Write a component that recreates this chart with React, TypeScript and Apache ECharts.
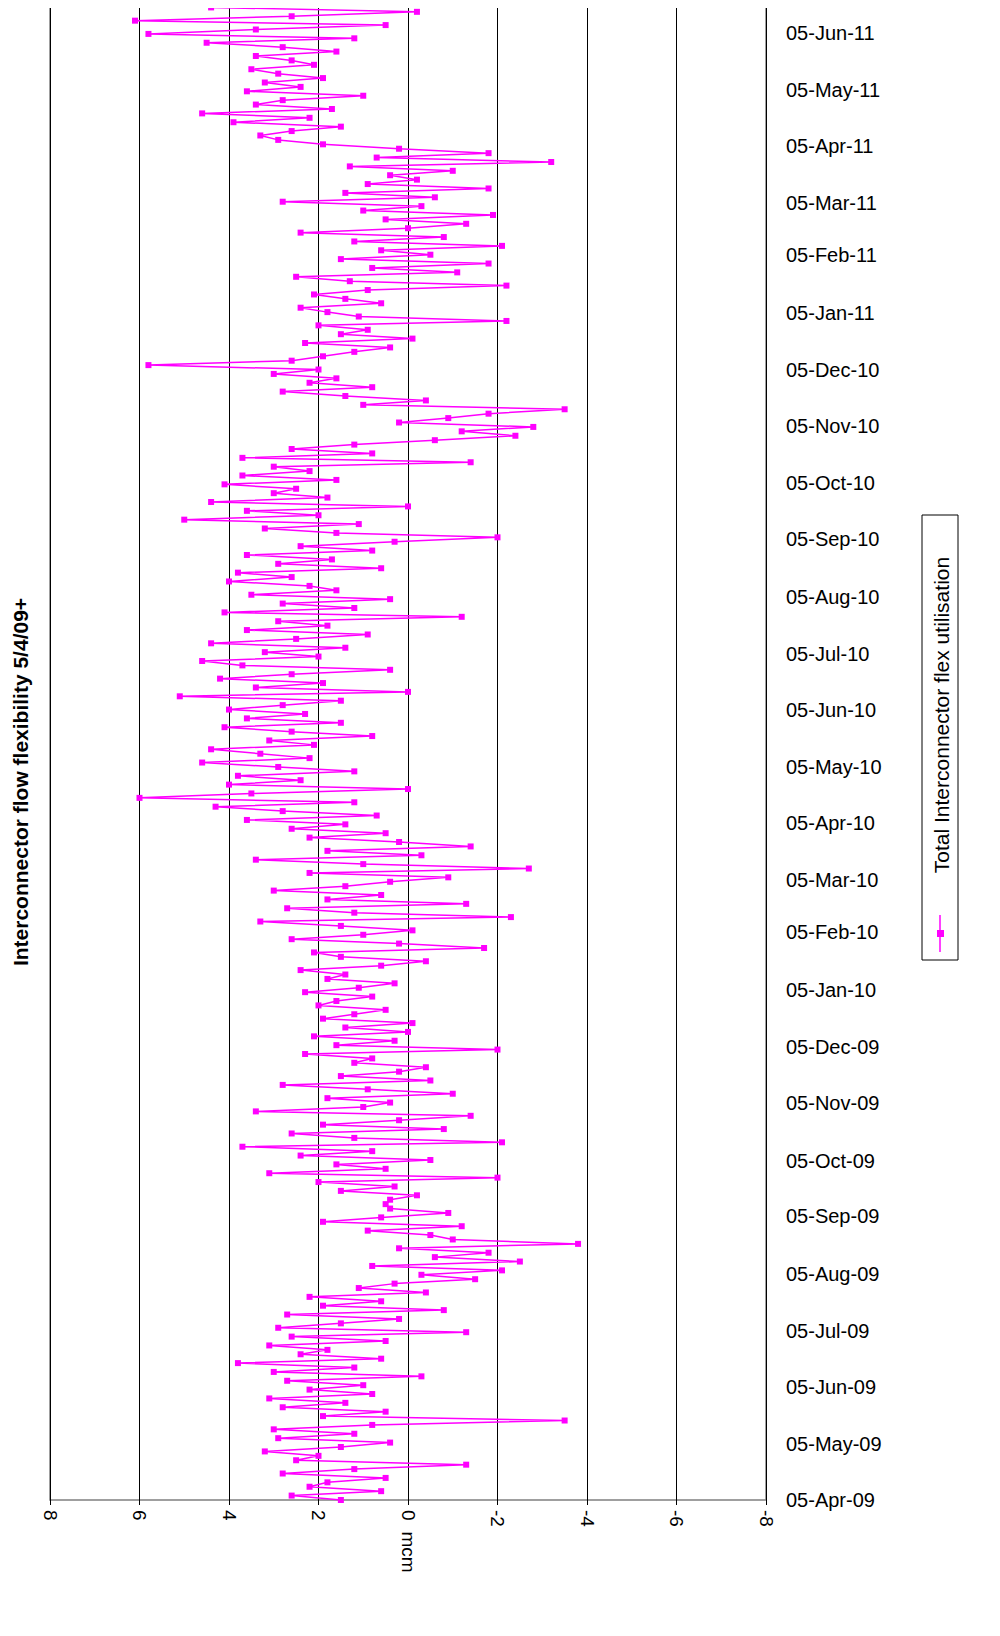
import { useEffect, useRef } from "react";
import * as echarts from "echarts";

const START = Date.UTC(2009, 3, 5);
const DAY = 86400000;
const SPAN_DAYS = 807;
const MONTHS = ["Jan", "Feb", "Mar", "Apr", "May", "Jun", "Jul", "Aug", "Sep", "Oct", "Nov", "Dec"];

// flex utilisation, mcm, chronological from 05-Apr-09
const FLEX = [
  1.5, 2.6, 0.6, 2.2, 1.8, 0.5, 2.8, 1.2, -1.3, 2.5,
  2.0, 3.2, 1.5, 0.4, 2.9, 1.2, 3.0, 0.8, -3.5, 1.9,
  0.5, 2.8, 1.4, 3.1, 0.8, 2.2, 1.0, 2.7, -0.3, 3.0,
  1.2, 3.8, 0.6, 2.4, 1.8, 3.1, 0.5, 2.6, -1.3, 2.9,
  1.5, 0.2, 2.7, -0.8, 1.9, 0.6, 2.2, -0.4, 1.1, 0.3,
  -1.5, -0.3, -2.1, 0.8, -2.5, -0.6, -1.8, 0.2, -3.8, -1.0,
  -0.5, 0.9, -1.2, 1.9, 0.6, -0.9, 0.4, 0.5, 0.4, -0.2,
  1.5, 0.3, 2.0, -2.0, 3.1, 0.5, 1.6, -0.5, 2.4, 0.8,
  3.7, -2.1, 1.2, 2.6, -0.8, 1.9, 0.2, -1.4, 3.4, 1.0,
  0.4, 1.8, -1.0, 0.9, 2.8, -0.5, 1.5, 0.2, -0.4, 1.2,
  0.8, 2.3, -2.0, 1.6, 0.3, 2.1, 0.0, 1.4, -0.1, 1.9,
  1.2, 0.5, 2.0, 1.6, 0.8, 2.3, 1.1, 0.3, 1.8, 1.4,
  2.4, 0.6, -0.4, 1.5, 2.1, -1.7, 0.2, 2.6, 1.0, -0.1,
  1.5, 3.3, -2.3, 1.2, 2.7, -1.3, 1.8, 0.6, 3.0, 1.4,
  0.4, -0.9, 2.2, -2.7, 1.0, 3.4, -0.3, 1.8, -1.4, 0.2,
  2.2, 0.5, 2.6, 1.4, 3.6, 0.7, 2.8, 4.3, 1.2, 6.0,
  3.5, 0.0, 4.0, 2.4, 3.8, 1.2, 2.9, 4.6, 2.2, 3.3,
  4.4, 2.1, 3.1, 0.8, 2.6, 4.1, 1.5, 3.6, 2.3, 4.0,
  2.8, 1.5, 5.1, 0.0, 3.4, 1.9, 4.2, 2.6, 0.4, 3.7,
  4.6, 2.0, 3.2, 1.4, 4.4, 2.5, 0.9, 3.6, 1.8, 2.9,
  -1.2, 4.1, 1.2, 2.8, 0.4, 3.5, 1.6, 2.2, 4.0, 2.6,
  3.8, 0.6, 2.9, 1.7, 3.6, 0.8, 2.4, 0.3, -2.0, 1.6,
  3.2, 1.1, 5.0, 2.0, 3.6, 0.0, 4.4, 1.8, 3.0, 2.5,
  4.1, 1.6, 3.7, 2.2, 3.0, -1.4, 3.7, 0.8, 2.6, 1.2,
  -0.6, -2.4, -1.2, -2.8, 0.2, -0.9, -1.8, -3.5, 1.0, -0.4,
  1.4, 2.8, 0.8, 2.2, 1.6, 3.0, 2.0, 5.8, 2.6, 1.9,
  1.2, 0.4, 2.3, -0.1, 1.5, 0.9, 2.0, -2.2, 1.1, 1.8,
  2.4, 0.6, 1.4, 2.1, 0.9, -2.2, 1.3, 2.5, -1.1, 0.8,
  -1.8, 1.5, -0.5, 0.6, -2.1, 1.2, -0.8, 2.4, 0.0, -1.3,
  0.5, -1.9, 1.0, -0.3, 2.8, -0.6, 1.4, -1.8, 0.9, -0.2,
  0.4, -1.0, 1.3, -3.2, 0.7, -1.8, 0.2, 1.9, 2.9, 3.3,
  2.6, 1.5, 3.9, 2.2, 4.6, 1.7, 3.4, 2.8, 1.0, 3.6,
  2.4, 3.2, 1.9, 2.9, 3.5, 2.1, 2.6, 3.4, 1.6, 2.8,
  4.5, 1.2, 5.8, 3.4, 0.5, 6.1, 2.6, -0.2, 4.4, 1.7,
];

// tick dates: the 5th of each month, Apr-09 .. Jun-11
const TICK_MONTHS: [number, number][] = [];
for (let y = 2009, m = 3; y < 2011 || (y === 2011 && m <= 5); m++) {
  if (m > 11) { m = 0; y++; }
  TICK_MONTHS.push([y, m]);
}

function dayOf(y: number, m: number) {
  return Math.round((Date.UTC(y, m, 5) - START) / DAY);
}

function fmtDay(d: number) {
  const dt = new Date(START + d * DAY);
  return `05-${MONTHS[dt.getUTCMonth()]}-${String(dt.getUTCFullYear() % 100).padStart(2, "0")}`;
}

export default function App() {
  const ref = useRef<HTMLDivElement>(null);

  useEffect(() => {
    if (!ref.current) return;
    const chart = echarts.init(ref.current, null, { renderer: "svg" });
    const step = SPAN_DAYS / (FLEX.length - 1);
    const data = FLEX.map((v, i) => [v, i * step]);
    const ticks = TICK_MONTHS.map(([y, m]) => dayOf(y, m));
    const font = "Liberation Sans, Arial, sans-serif";

    chart.setOption({
      animation: false,
      grid: { left: 50, right: 234, top: 3, bottom: 136, show: true, borderColor: "#808080", borderWidth: 1.5 },
      xAxis: {
        type: "value", min: -8, max: 8, interval: 2, inverse: true,
        axisLine: { show: false }, axisTick: { show: true, length: 5, lineStyle: { color: "#000" } },
        splitLine: { show: true, lineStyle: { color: "#000", width: 1 } },
        axisLabel: { rotate: -90, fontSize: 19, color: "#000", fontFamily: font, margin: 10 },
      },
      yAxis: {
        type: "value", min: 0, max: SPAN_DAYS, position: "right",
        axisLine: { show: false }, splitLine: { show: false },
        axisTick: { show: false },
        axisLabel: {
          customValues: ticks, fontSize: 20, color: "#000", fontFamily: font, margin: 20,
          formatter: (v: number) => fmtDay(v),
        },
      },
      series: [{
        type: "line", data,
        symbol: "rect", symbolSize: 6,
        lineStyle: { color: "#ff00ff", width: 1.5 },
        itemStyle: { color: "#ff00ff" },
      }],
      graphic: [
        {
          type: "text", x: 20, y: 782, rotation: Math.PI / 2,
          style: { text: "Interconnector flow flexibility 5/4/09+", font: `bold 21px ${font}`, fill: "#000", align: "center", verticalAlign: "middle" },
        },
        {
          type: "text", x: 408, y: 1552, rotation: -Math.PI / 2,
          style: { text: "mcm", font: `19px ${font}`, fill: "#000", align: "center", verticalAlign: "middle" },
        },
        { type: "rect", shape: { x: 922, y: 515, width: 36, height: 445 }, style: { fill: "#fff", stroke: "#000", lineWidth: 1 } },
        { type: "line", shape: { x1: 940, y1: 915, x2: 940, y2: 952 }, style: { stroke: "#ff00ff", lineWidth: 1.5 } },
        { type: "rect", shape: { x: 937, y: 930, width: 7, height: 7 }, style: { fill: "#ff00ff" } },
        {
          type: "text", x: 941, y: 715, rotation: Math.PI / 2,
          style: { text: "Total Interconnector flex utilisation", font: `21px ${font}`, fill: "#000", align: "center", verticalAlign: "middle" },
        },
      ],
    });
    return () => chart.dispose();
  }, []);

  return <div ref={ref} style={{ width: 1000, height: 1636, margin: -8 }} />;
}
